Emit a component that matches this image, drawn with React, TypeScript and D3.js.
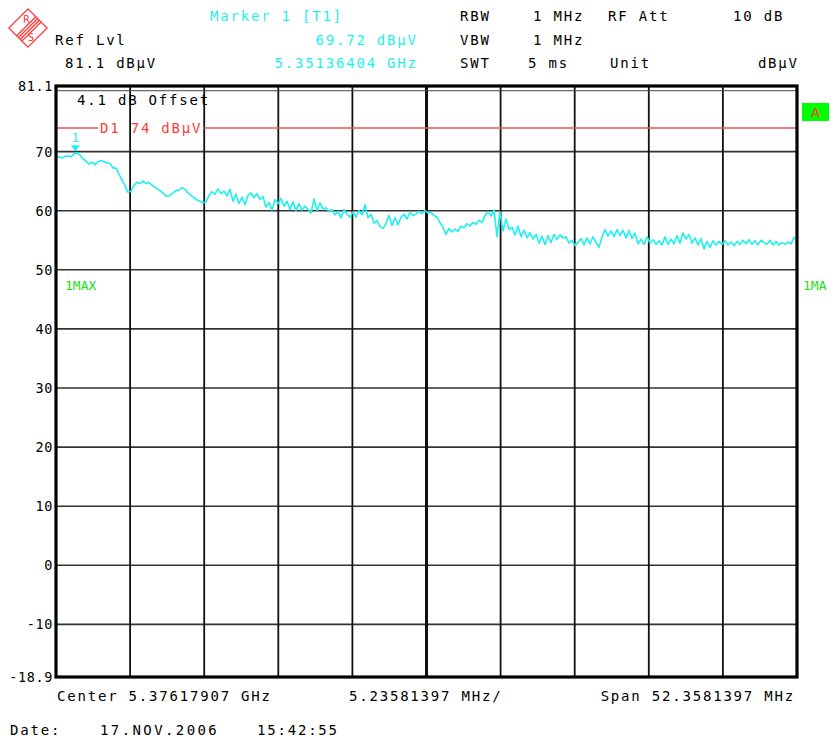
import React from "react";
import * as d3 from "d3";

// ---- data ----
const centerGHz = 5.37617907;
const spanMHz = 52.3581397;
const refLevel = 81.1;
const bottomLevel = -18.9;
const yTicks = [70, 60, 50, 40, 30, 20, 10, 0, -10];
const yTickLabels = ["81.1", "70", "60", "50", "40", "30", "20", "10", "0", "-10", "-18.9"];
const limitLine = 74;
const offsetLine = 80.3;
const markerFreqGHz = 5.35136404;
const markerLevel = 69.72;

// trace levels (dBµV), 248 sweep points evenly spaced across the span
const traceLevels = [
  69.3, 69.1, 68.9, 69.2, 69.3, 69.1, 69.6, 69.8, 69.4, 68.8,
  68.4, 67.9, 68.2, 67.8, 68.3, 68.5, 68.3, 68.1, 68.0, 67.2,
  67.2, 66.2, 65.2, 64.2, 63.1, 63.3, 64.3, 64.8, 64.6, 65.0,
  64.6, 64.8, 64.3, 64.0, 63.6, 63.3, 62.8, 62.4, 62.6, 63.0,
  63.4, 63.5, 63.9, 63.6, 63.0, 62.6, 62.2, 61.8, 61.6, 61.3,
  61.5, 62.6, 63.2, 62.8, 63.7, 62.9, 63.3, 62.5, 63.6, 61.6,
  62.8, 61.2, 62.3, 61.0, 62.6, 63.0, 62.2, 62.9, 61.9, 62.4,
  60.6, 61.4, 60.1, 61.9, 61.2, 62.1, 60.8, 61.6, 60.2, 61.5,
  60.0, 61.2, 60.1, 60.8, 60.2, 59.6, 62.0, 60.0, 61.3, 60.3,
  60.5, 59.8, 60.2, 59.3, 59.9, 58.8, 60.2, 59.4, 58.9, 59.8,
  58.9, 60.0, 59.3, 61.0, 58.8, 59.4, 57.9, 58.3, 57.3, 57.0,
  57.8, 59.2, 57.5, 58.8, 57.6, 58.9, 59.4, 58.6, 59.7, 59.2,
  59.4, 59.9, 59.5, 60.0, 59.6, 59.7, 59.2, 58.9, 58.0, 57.2,
  56.0, 57.0, 56.4, 56.9, 56.5, 57.4, 57.1, 57.8, 57.4, 58.0,
  57.7, 58.4, 58.0, 59.2, 59.8, 59.1, 60.1, 55.6, 59.8, 56.6,
  58.6, 56.8, 57.2, 55.9, 57.4, 55.6, 56.7, 55.4, 56.3, 55.2,
  56.0, 54.5, 55.7, 54.3, 55.8, 54.6, 56.0, 55.1, 55.9, 55.4,
  55.6, 54.5, 55.0, 54.1, 54.6, 55.3, 54.2, 55.4, 54.4, 55.6,
  54.6, 53.8, 55.6, 56.8, 55.7, 56.6, 55.6, 56.8, 55.8, 56.7,
  55.4, 56.7, 55.3, 56.2, 54.4, 55.2, 54.3, 55.6, 54.5, 55.1,
  54.3, 54.9, 54.2, 55.6, 54.3, 55.2, 54.4, 55.8, 54.5, 56.2,
  55.2, 56.0, 54.5, 55.4, 54.2, 55.3, 53.5, 54.8, 53.8, 54.9,
  54.2, 54.8, 54.3, 54.9, 54.2, 54.7, 54.1, 54.8, 54.3, 55.0,
  54.4, 55.1, 54.3, 54.9, 54.2, 55.0, 54.6, 54.3, 55.0, 54.2,
  54.8, 54.2, 54.6, 54.3, 54.7, 54.4, 55.5, 54.9,
];

const headerRows = [
  [
    { t: "Marker 1 [T1]", x: 210, c: "cyan" },
    { t: "RBW", x: 460 },
    { t: "1 MHz", x: 533 },
    { t: "RF Att", x: 608 },
    { t: "10 dB", x: 733 },
  ],
  [
    { t: "Ref Lvl", x: 55 },
    { t: "69.72 dB\u00b5V", x: 416, c: "cyan", end: true },
    { t: "VBW", x: 460 },
    { t: "1 MHz", x: 533 },
  ],
  [
    { t: "81.1 dB\u00b5V", x: 65 },
    { t: "5.35136404 GHz", x: 416, c: "cyan", end: true },
    { t: "SWT", x: 460 },
    { t: "5 ms", x: 528 },
    { t: "Unit", x: 610 },
    { t: "dB\u00b5V", x: 797, end: true },
  ],
];
const headerBaselines = [21, 45, 68];

const W = 834;
const H = 740;
const L = 56, R = 797, T = 86, B = 677;
const FONT = "'DejaVu Sans Mono', monospace";
const CYAN = "#1ef0f2";
const GREEN = "#20e020";
const RED = "#ff3b3b";

export default function App() {
  const startGHz = centerGHz - spanMHz / 2000;
  const stopGHz = centerGHz + spanMHz / 2000;
  const x = d3.scaleLinear().domain([startGHz, stopGHz]).range([L, R]);
  const y = d3.scaleLinear().domain([bottomLevel, refLevel]).range([B, T]);
  const idx = d3.scaleLinear().domain([0, traceLevels.length - 1]).range([startGHz, stopGHz]);
  const pts = traceLevels.map((v, i) => [idx(i), v] as [number, number]);
  const line = d3.line<[number, number]>().x((d) => x(d[0])).y((d) => y(d[1]));
  const vDivs = d3.range(1, 10).map((k) => startGHz + (k * spanMHz) / 10000);
  const mx = x(markerFreqGHz);
  const my = y(markerLevel);
  const lsp = 1.8;
  const fs = 14;
  const d1Start = 98, d1End = 204;

  return (
    <svg width={W} height={H} style={{ position: "absolute", left: 0, top: 0, background: "#fff" }}
      fontFamily={FONT} fontSize={fs}>
      <rect x={0} y={0} width={W} height={H} fill="#fff" />
      {/* logo */}
      <g transform="translate(28,28) rotate(45)" stroke={RED} fill="none" strokeWidth={1.3}>
        <rect x={-13.5} y={-13.5} width={27} height={27} />
        {[-2.5, 0, 2.5, 5].map((o) => (
          <line key={o} x1={o} x2={o} y1={-13.5} y2={13.5} />
        ))}
        <text x={-7} y={-2} fill={RED} stroke="none" fontSize={10} textAnchor="middle" fontFamily="'DejaVu Sans', sans-serif" transform="rotate(-45 -7 -5)">R</text>
        <text x={9} y={8} fill={RED} stroke="none" fontSize={10} textAnchor="middle" fontFamily="'DejaVu Sans', sans-serif" transform="rotate(-45 9 5)">S</text>
      </g>
      {/* header */}
      {headerRows.map((row, ri) =>
        row.map((h, i) => (
          <text key={ri + "-" + i} x={h.end ? h.x + lsp : h.x} y={headerBaselines[ri]}
            textAnchor={h.end ? "end" : "start"} letterSpacing={lsp}
            fill={h.c === "cyan" ? CYAN : "#000"}>{h.t}</text>
        ))
      )}
      {/* horizontal grid */}
      {yTicks.map((v) => (
        <line key={v} x1={L} x2={R} y1={y(v)} y2={y(v)} stroke="#333" strokeWidth={1.6} />
      ))}
      {/* vertical grid */}
      {vDivs.map((f, k) => (
        <line key={k} x1={x(f)} x2={x(f)} y1={T} y2={B} stroke="#111" strokeWidth={k === 4 ? 3 : 1.8} />
      ))}
      {/* offset line */}
      <line x1={L} x2={R} y1={y(offsetLine)} y2={y(offsetLine)} stroke="#444" strokeWidth={1} />
      {/* limit line */}
      <line x1={L} x2={d1Start} y1={y(limitLine)} y2={y(limitLine)} stroke="#f05050" strokeWidth={1.4} />
      <line x1={d1End} x2={R} y1={y(limitLine)} y2={y(limitLine)} stroke="#f05050" strokeWidth={1.4} />
      <text x={100} y={y(limitLine) + 5} fill={RED} letterSpacing={lsp}>{"D1 74 dB\u00b5V"}</text>
      <text x={77} y={105} fill="#000" letterSpacing={lsp}>4.1 dB Offset</text>
      {/* trace */}
      <path d={line(pts) || ""} fill="none" stroke={CYAN} strokeWidth={1.6} strokeLinejoin="round" />
      {/* marker */}
      <path d={`M${mx - 4.5},${my - 8} L${mx + 4.5},${my - 8} L${mx},${my - 2} Z`} fill={CYAN} />
      <text x={mx} y={my - 11} fill={CYAN} fontSize={12} textAnchor="middle">1</text>
      {/* border */}
      <rect x={L} y={T} width={R - L} height={B - T} fill="none" stroke="#000" strokeWidth={3.2} />
      {/* y labels */}
      {[refLevel, ...yTicks, bottomLevel].map((v, i) => (
        <text key={i} x={53} y={y(v) + 5} textAnchor="end" fill="#000" fontSize={13.5} letterSpacing={0.6}>
          {yTickLabels[i]}
        </text>
      ))}
      {/* side labels */}
      <text x={65} y={290} fill={GREEN} fontSize={13}>1MAX</text>
      <text x={803} y={290} fill={GREEN} fontSize={13}>1MA</text>
      <rect x={802} y={103} width={27} height={18} fill="#00ff00" />
      <text x={815.5} y={117} fill={RED} fontSize={13} textAnchor="middle" fontFamily="'DejaVu Sans', sans-serif">A</text>
      {/* bottom */}
      <text x={57} y={701} fill="#000" letterSpacing={lsp}>Center 5.37617907 GHz</text>
      <text x={349} y={701} fill="#000" letterSpacing={lsp}>5.23581397 MHz/</text>
      <text x={795} y={701} fill="#000" textAnchor="end" letterSpacing={lsp}>Span 52.3581397 MHz</text>
      <text x={10} y={735} fill="#000" letterSpacing={lsp}>Date:</text>
      <text x={100} y={735} fill="#000" letterSpacing={lsp + 0.6}>17.NOV.2006</text>
      <text x={257} y={735} fill="#000" letterSpacing={lsp}>15:42:55</text>
    </svg>
  );
}
